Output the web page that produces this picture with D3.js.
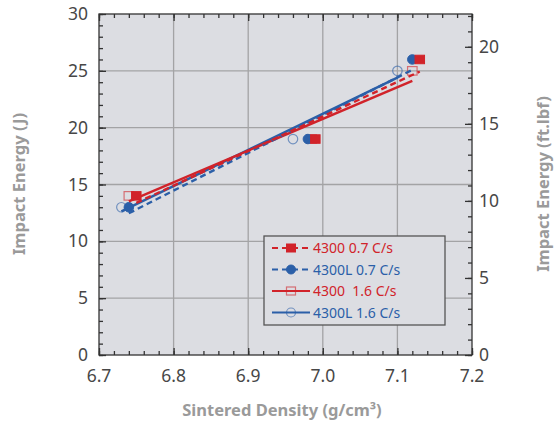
<!DOCTYPE html>
<html><head><meta charset="utf-8">
<script src="https://cdn.jsdelivr.net/npm/d3@7"></script>
<style>
body{margin:0;background:#fff;}
svg{display:block;font-family:"Noto Sans",sans-serif;}
</style></head>
<body>
<svg id="c" width="556" height="423"></svg>
<script>
// ---- data ----
const seriesNames = ["4300 0.7 C/s", "4300L 0.7 C/s", "4300  1.6 C/s", "4300L 1.6 C/s"];
const s1x = [6.75, 6.99, 7.13]; const s1y = [14, 19, 26]; // 4300 0.7 C/s
const s2x = [6.74, 6.98, 7.12]; const s2y = [13, 19, 26]; // 4300L 0.7 C/s
const s3x = [6.74, 6.985, 7.12]; const s3y = [14, 19, 25]; // 4300 1.6 C/s
const s4x = [6.73, 6.96, 7.10]; const s4y = [13, 19, 25]; // 4300L 1.6 C/s
const xTicks = [6.7, 6.8, 6.9, 7.0, 7.1, 7.2];
const yTicks = [0, 5, 10, 15, 20, 25, 30];
const y2Ticks = [0, 5, 10, 15, 20];
const JtoFtLbf = 0.7376;

const RED = "#d1232a", BLUE = "#2b5fa8";
const styles = [
  {color: RED, dash: "6,4", marker: "square", fill: true},
  {color: BLUE, dash: "6,4", marker: "circle", fill: true},
  {color: RED, dash: null, marker: "square", fill: false},
  {color: BLUE, dash: null, marker: "circle", fill: false}
];
const series = [[s1x, s1y], [s2x, s2y], [s3x, s3y], [s4x, s4y]];

const svg = d3.select("#c");
const L = 99, R = 472, T = 14, B = 355;
const x = d3.scaleLinear().domain([6.7, 7.2]).range([L, R]);
const y = d3.scaleLinear().domain([0, 30]).range([B, T]);
const y2 = d3.scaleLinear().domain([0, 30 * JtoFtLbf]).range([B, T]);

// plot background
svg.append("rect").attr("x", L).attr("y", T).attr("width", R - L).attr("height", B - T).attr("fill", "#dcdde2");

// grid
const grid = svg.append("g").attr("stroke", "#a3a3a5").attr("stroke-width", 1.3);
xTicks.slice(1, -1).forEach(v => grid.append("line").attr("x1", x(v)).attr("x2", x(v)).attr("y1", T).attr("y2", B));
yTicks.slice(1, -1).forEach(v => grid.append("line").attr("y1", y(v)).attr("y2", y(v)).attr("x1", L).attr("x2", R));

const axisColor = "#333";
function styleAxis(g) { g.select(".domain").remove(); g.selectAll("line").attr("stroke", axisColor).attr("stroke-width", 1.3); }

const xMinor = d3.range(0, 26).map(i => 6.7 + i * 0.02);
const yMinor = d3.range(0, 31);
const y2Minor = d3.range(0, 23);

svg.append("g").attr("transform", `translate(0,${B})`).call(d3.axisTop(x).tickValues(xMinor).tickSize(4).tickFormat("")).call(styleAxis);
svg.append("g").attr("transform", `translate(0,${B})`).call(d3.axisTop(x).tickValues(xTicks).tickSize(7).tickFormat("")).call(styleAxis);
svg.append("g").attr("transform", `translate(0,${T})`).call(d3.axisBottom(x).tickValues(xMinor).tickSize(4).tickFormat("")).call(styleAxis);
svg.append("g").attr("transform", `translate(0,${T})`).call(d3.axisBottom(x).tickValues(xTicks).tickSize(7).tickFormat("")).call(styleAxis);
svg.append("g").attr("transform", `translate(${L},0)`).call(d3.axisRight(y).tickValues(yMinor).tickSize(4).tickFormat("")).call(styleAxis);
svg.append("g").attr("transform", `translate(${L},0)`).call(d3.axisRight(y).tickValues(yTicks).tickSize(7).tickFormat("")).call(styleAxis);
svg.append("g").attr("transform", `translate(${R},0)`).call(d3.axisLeft(y2).tickValues(y2Minor).tickSize(4).tickFormat("")).call(styleAxis);
svg.append("g").attr("transform", `translate(${R},0)`).call(d3.axisLeft(y2).tickValues(y2Ticks).tickSize(7).tickFormat("")).call(styleAxis);

// frame
svg.append("rect").attr("x", L).attr("y", T).attr("width", R - L).attr("height", B - T).attr("fill", "none").attr("stroke", axisColor).attr("stroke-width", 1.3);

// tick labels
const lab = svg.append("g").attr("fill", "#474747").attr("font-size", 17.5);
xTicks.forEach(v => lab.append("text").attr("x", x(v)).attr("y", 382).attr("text-anchor", "middle").text(d3.format(".1f")(v)));
yTicks.forEach(v => lab.append("text").attr("x", 88).attr("y", y(v) + 6).attr("text-anchor", "end").text(v));
y2Ticks.forEach(v => lab.append("text").attr("x", 479).attr("y", y2(v) + 6).attr("text-anchor", "start").text(v));

// axis titles
const tt = svg.append("g").attr("fill", "#9a9a9a").attr("font-size", 16.5).attr("font-weight", "bold");
tt.append("text").attr("x", 282).attr("y", 416).attr("text-anchor", "middle").text("Sintered Density (g/cm³)");
tt.append("text").attr("transform", "translate(25,184) rotate(-90)").attr("text-anchor", "middle").text("Impact Energy (J)");
tt.append("text").attr("transform", "translate(549,184) rotate(-90)").attr("text-anchor", "middle").text("Impact Energy (ft.lbf)");

// regression trendlines
function fit(xs, ys) {
  const mx = d3.mean(xs), my = d3.mean(ys);
  let sxy = 0, sxx = 0;
  xs.forEach((v, i) => { sxy += (v - mx) * (ys[i] - my); sxx += (v - mx) * (v - mx); });
  const b = sxy / sxx, a = my - b * mx;
  const x0 = d3.min(xs), x1 = d3.max(xs);
  return [[x0, a + b * x0], [x1, a + b * x1]];
}
const line = d3.line().x(d => x(d[0])).y(d => y(d[1]));

function marker(g, st, cx, cy, size) {
  if (st.marker === "square") {
    g.append("rect").attr("x", cx - size / 2).attr("y", cy - size / 2 + 0.5).attr("width", size).attr("height", size - 1)
      .attr("fill", st.fill ? st.color : "none").attr("stroke", st.color).attr("stroke-width", st.fill ? 1 : 1.2).attr("stroke-opacity", st.fill ? 1 : 0.6);
  } else {
    g.append("circle").attr("cx", cx).attr("cy", cy).attr("r", size / 2)
      .attr("fill", st.fill ? st.color : "none").attr("stroke", st.color).attr("stroke-width", st.fill ? 1 : 1.2).attr("stroke-opacity", st.fill ? 1 : 0.6);
  }
}

const plot = svg.append("g");
[3, 2, 1, 0].forEach(i => {
  const [xs, ys] = series[i];
  xs.forEach((v, j) => marker(plot, styles[i], x(v), y(ys[j]), 9.5));
});
[3, 2, 1, 0].forEach(i => {
  const [xs, ys] = series[i];
  plot.append("path").attr("d", line(fit(xs, ys))).attr("fill", "none").attr("stroke", styles[i].color)
    .attr("stroke-width", 2.4).attr("stroke-dasharray", styles[i].dash);
});

// legend
const lg = svg.append("g");
lg.append("rect").attr("x", 264).attr("y", 236).attr("width", 181).attr("height", 89).attr("fill", "#dcdde2")
  .attr("stroke", "#555").attr("stroke-width", 1.3);
seriesNames.forEach((n, i) => {
  const yy = 248 + i * 21.5;
  const st = styles[i];
  lg.append("line").attr("x1", 272).attr("x2", 310).attr("y1", yy).attr("y2", yy).attr("stroke", st.color)
    .attr("stroke-width", 2).attr("stroke-dasharray", st.dash);
  marker(lg, st, 291, yy, 9);
  lg.append("text").attr("x", 313).attr("y", yy + 5).attr("fill", st.color).attr("font-size", 14)
    .attr("xml:space", "preserve").style("white-space", "pre").text(n);
});
</script>
</body></html>
